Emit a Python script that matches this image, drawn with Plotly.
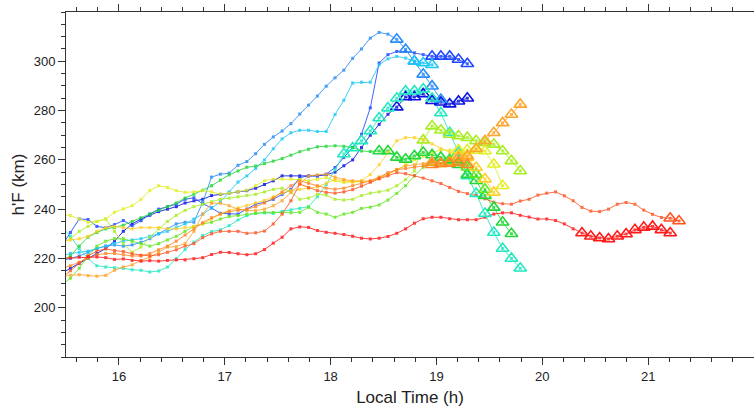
import plotly.graph_objects as go

# time grid: 5-minute samples, first one just left of the axis (clipped)
def t_of(i):
    return 15.5 + (i - 0.5) / 12.0

# h'F values (km), each list starts at the same first time sample
dark_blue = [214, 216, 218, 220, 222, 224, 227, 231, 234, 236, 237.5, 239, 240, 241, 242.5,
             243.4, 244, 245.5, 246, 246.5, 247, 247.5, 248.5, 250, 251.5, 253.5, 253.5, 253.5, 253.5, 253.5,
             254, 255, 257.6, 260, 265, 270, 274.4, 278.5, 281.4, 285.5, 285.5, 286.7, 284, 283.4, 282.6, 283.8, 285]
blue = [225, 230.5, 236, 235.8, 233, 232.5, 233.7, 235.4, 233.3, 235.3, 238, 240, 241, 242, 244,
        244.6, 242.2, 240.5, 238.3, 238, 238, 240, 242, 242.8, 244, 246, 248, 252.8, 253.5, 253.5,
        254.2, 256.9, 261, 265, 270.4, 281.1, 299.3, 302.7, 304, 304, 303.4, 302.7, 302, 302, 302, 300.7, 299]
azure = [219, 220, 221, 222.5, 224, 225, 225.5, 225, 225.5, 226.5, 228, 230, 232, 234, 234.7,
         234.7, 242.8, 253, 254.2, 254.6, 257.8, 259.3, 262.5, 266.3, 269.3, 271.7, 274.7, 278.6, 282.2, 285.9,
         289.9, 293.3, 296.4, 301.2, 305, 309.4, 311.7, 311, 308.9, 304.8, 300, 294.7, 289.9, 284.5]
light_cyan = [221, 222, 222.5, 223, 224, 225, 226, 227, 227.5, 228, 229, 230, 231, 232.5, 234,
              236, 238, 240.5, 243, 247, 251, 253.5, 256.5, 260, 264.5, 268.5, 271, 272, 272, 271.5,
              271.5, 278.4, 284.2, 291.2, 291.5, 291.5, 298.6, 301, 302, 301.3, 300, 299.3, 298.6]
aquamarine = [233, 229, 224, 220, 217, 216.5, 216.2, 216, 215.4, 215.2, 214.5, 214.9, 216.5, 219.9, 223.6,
              226.6, 229.3, 230.9, 231.6, 233.3, 235.6, 237.4, 238.3, 238.5, 238.3, 239.1, 239.7, 240.3, 241, 245,
              250, 256, 262.4, 264.8, 267.7, 271.7, 277, 281, 285, 287.9, 287.9, 288.7, 285, 279, 271, 262.9,
              253.5, 246.3, 238.2, 230.5, 224, 220, 216]
green = [219, 221, 225, 228.6, 230.5, 232, 232.6, 233.5, 235, 236.5, 238, 239.5, 241, 242.5, 244.5,
         246, 247.7, 249.5, 251.8, 253.9, 255.5, 257, 257.5, 258.5, 259.5, 260.5, 261.9, 263.3, 264.3, 265.3,
         265.5, 265.7, 265.5, 265, 263.6, 263.4, 263.6, 263.6, 261, 260.2, 261.6, 263, 262, 261, 260, 258,
         254, 251.5, 245.5, 240.7, 234.7, 230]
lime = [209, 212, 216, 221, 225, 227, 228, 228, 227, 226, 225, 226, 227.5, 229, 231,
        233, 234, 234.7, 236, 237, 237.4, 238, 238.3, 238.7, 238.7, 238.5, 238.5, 238.7, 240.8, 238.7,
        238, 236.7, 238, 238.7, 240.3, 240.8, 241.7, 243.7, 246.4, 249.5, 253.5, 257, 259, 258.5, 259.5,
        259, 257, 254, 248]
yellow_green = [226, 228, 231, 233, 235, 236, 231, 226, 222.5, 224.6, 228.6, 232, 235, 237.5, 239.5,
                241, 242, 243, 244, 244.5, 245, 245.5, 246, 247, 248, 248.5, 247, 244, 244.5, 246,
                245.7, 244, 243.7, 244, 245.5, 246.5, 247, 247.7, 249.5, 252, 255.5, 268, 273.7, 272, 270.3,
                269.7, 269, 267.7, 267, 266.3, 263.6, 259.6, 255.5]
yellow = [238, 237.4, 236, 234.7, 235, 236, 238.7, 240.1, 241.4, 244, 247.5, 249.5, 248.8, 247.5, 246.8,
          247, 247.5, 247, 246.1, 246.5, 247, 247.7, 249.5, 251.5, 252.2, 252.2, 252.2, 252, 251.5, 252,
          252.8, 251.5, 250.8, 251, 251.3, 251.3, 252.9, 254.2, 256, 258, 260, 261.5, 263, 264, 264,
          264, 264, 263.8, 263.6, 258.2, 249.5]
gold = [227, 227.5, 228, 229, 231, 232.5, 233, 232.5, 232, 232.5, 232.5, 232.5, 232, 232, 232.5,
        233, 234, 236, 238, 239.5, 240.5, 241.5, 242.5, 243.5, 245, 246.5, 247.5, 248, 248.3, 249,
        250.5, 252, 251.5, 251, 251.5, 254, 258, 263, 267.7, 269, 269, 268.3, 266.5, 264.5, 263,
        262, 261, 256.9, 252.2, 246.8]
orange = [212.5, 213.2, 213.4, 213, 212.8, 213.1, 215.2, 216.5, 217.4, 219.2, 220.5, 222.5, 224.6, 224.8, 226,
          231, 238, 242.4, 242.4, 241.4, 240, 239.4, 239.4, 240, 241.4, 243.4, 246.8, 250.2, 253.5, 253.9,
          254.2, 253, 252, 251.5, 251.3, 251.3, 252.5, 254.2, 256, 257.6, 258, 258.5, 259, 258.3, 259,
          260.8, 261.6, 264.5, 267.7, 271, 275, 278.4, 282.5]
dark_orange = [216, 217, 218.5, 220, 221.5, 222, 222, 221.5, 221, 221, 222, 223.5, 225, 227, 229.5,
               232, 234.5, 236.5, 238, 239, 239.5, 240, 241, 242.5, 244.5, 247, 249.5, 251.5, 250.5, 249.5,
               248.5, 248.1, 248.5, 249.5, 250.5, 251.5, 253, 254.8, 256, 256.5, 257, 257.5, 258, 258.5, 258.5,
               259, 258]
red_orange = [212, 215, 218, 221, 223, 223.9, 223.2, 222.8, 221.9, 221.3, 221, 221.5, 222.5, 223.5, 225,
              226, 228.4, 230, 231, 231, 231, 230.2, 230.4, 231.1, 234, 238, 243.4, 250.2, 248.8, 247.5,
              246.8, 246.5, 247, 247.9, 249.3, 250.9, 252.3, 253.5, 254.8, 254.4, 253.6, 252.6, 251.5, 250.4, 248.8,
              247.2, 246.3, 245.5, 244.2, 242.8, 242.2, 242, 243.3, 244, 245.7, 246.5, 247, 245.4, 243.4, 240.7,
              239.2, 239, 240, 242, 242.7, 242, 239.6, 237.9, 236.6, 236.3, 235.2]
red = [220, 220.2, 220.5, 220.7, 220.6, 220.3, 219.6, 219.8, 219.2, 218.9, 219.1, 218.9, 219.2, 219.4, 219.4,
       219.9, 220.3, 221.6, 222.5, 222.4, 221.9, 221.5, 221.9, 223.6, 226.2, 228.6, 232, 232.8, 232.6, 231.3,
       230.6, 230.2, 229.7, 229, 228.2, 227.9, 228.2, 228.9, 230.2, 232, 234.3, 236.1, 236.7, 236.7, 236.1,
       235.7, 235.7, 235.7, 236.7, 238, 238.5, 238.5, 237.5, 236.8, 236, 236, 235.4, 234, 232, 230.3,
       229, 228.3, 227.9, 229, 229.9, 231.6, 232.6, 233, 231.6, 230.3]

series = [dark_blue, blue, azure, light_cyan, aquamarine, green, lime, yellow_green,
          yellow, gold, orange, dark_orange, red_orange, red]
colors = ["#0a14e0", "#1f48ff", "#2a8cf8", "#1ec8f8", "#22e8c0", "#22d838", "#62e820", "#a8ee22",
          "#e2ee22", "#ffd024", "#ffa42a", "#ff8424", "#ff5424", "#ff1a1a"]
# index (in each list) of the first triangle-marked sample
tri_start = [38, 42, 38, 40, 32, 36, 42, 41, 45, 45, 42, 42, 69, 59]

fig = go.Figure()
for vals, col in zip(series, colors):
    ts = [t_of(i) for i in range(len(vals))]
    fig.add_trace(go.Scatter(x=ts, y=vals, mode="lines+markers",
                             line=dict(color=col, width=1), opacity=0.85,
                             marker=dict(symbol="square", size=3, color=col),
                             showlegend=False, hoverinfo="skip"))
for vals, col, k in zip(series, colors, tri_start):
    ts = [t_of(i) for i in range(k, len(vals))]
    fig.add_trace(go.Scatter(x=ts, y=vals[k:], mode="markers",
                             marker=dict(symbol="triangle-up-open", size=11, color=col,
                                         line=dict(color=col, width=1.6)),
                             showlegend=False, hoverinfo="skip"))

font = "Liberation Sans, Arial, Helvetica, sans-serif"
fig.update_layout(width=754, height=411, margin=dict(l=66, r=0, t=12, b=54),
                  paper_bgcolor="white", plot_bgcolor="white",
                  font=dict(family=font, size=13, color="#222"))
fig.update_xaxes(range=[15.5, 22], tickvals=[16, 17, 18, 19, 20, 21], showgrid=False, zeroline=False,
                 showline=True, linecolor="#333", linewidth=1, mirror="ticks",
                 ticks="outside", ticklen=7, tickcolor="#333",
                 minor=dict(dtick=0.2, tick0=0, ticks="outside", ticklen=4, tickcolor="#333", showgrid=False),
                 title=dict(text="Local Time (h)", font=dict(size=17, family=font), standoff=8))
fig.update_yaxes(range=[180, 320], tickvals=[200, 220, 240, 260, 280, 300], showgrid=False, zeroline=False,
                 showline=True, linecolor="#333", linewidth=1, mirror=False,
                 ticks="outside", ticklen=7, tickcolor="#333",
                 minor=dict(dtick=5, tick0=0, ticks="outside", ticklen=4, tickcolor="#333", showgrid=False),
                 title=dict(text="h'F (km)", font=dict(size=17, family=font), standoff=4))
fig.write_html("out.html")
